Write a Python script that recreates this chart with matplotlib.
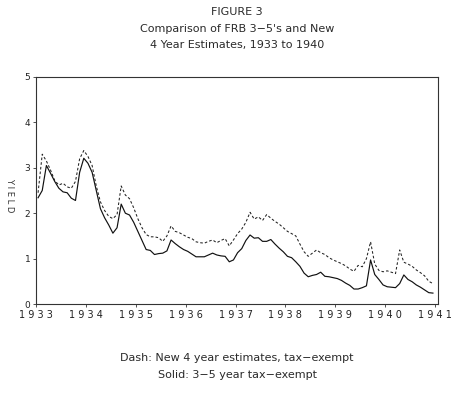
import matplotlib
matplotlib.use("Agg")
import matplotlib.pyplot as plt
import numpy as np

# Monthly data, Jan 1933 .. Dec 1940
start_year = 1933
solid_35yr = [
    2.34, 2.50, 3.05, 2.88, 2.70, 2.55, 2.47, 2.45, 2.33, 2.28, 2.90, 3.21,
    3.10, 2.90, 2.50, 2.10, 1.90, 1.74, 1.56, 1.68, 2.20, 2.00, 1.96, 1.80,
    1.60, 1.40, 1.20, 1.18, 1.09, 1.11, 1.12, 1.17, 1.41, 1.33, 1.26, 1.20,
    1.16, 1.10, 1.04, 1.04, 1.04, 1.08, 1.12, 1.08, 1.06, 1.05, 0.93, 0.97,
    1.13, 1.22, 1.40, 1.52, 1.45, 1.46, 1.38, 1.38, 1.42, 1.32, 1.23, 1.15,
    1.05, 1.02, 0.93, 0.83, 0.68, 0.60, 0.63, 0.65, 0.70, 0.61, 0.60, 0.58,
    0.56, 0.52, 0.46, 0.41, 0.33, 0.33, 0.36, 0.40, 0.97, 0.65, 0.54, 0.42,
    0.38, 0.37, 0.36, 0.45, 0.64, 0.54, 0.49, 0.42, 0.37, 0.31, 0.25, 0.24,
]
dash_new4yr = [
    2.45, 3.30, 3.15, 2.95, 2.72, 2.62, 2.66, 2.58, 2.55, 2.70, 3.20, 3.38,
    3.25, 3.05, 2.60, 2.25, 2.06, 1.93, 1.88, 1.97, 2.60, 2.40, 2.32, 2.12,
    1.88, 1.68, 1.53, 1.48, 1.48, 1.46, 1.38, 1.50, 1.72, 1.60, 1.57, 1.52,
    1.47, 1.44, 1.37, 1.35, 1.34, 1.38, 1.41, 1.35, 1.40, 1.44, 1.28, 1.41,
    1.55, 1.65, 1.80, 2.02, 1.87, 1.92, 1.84, 1.97, 1.89, 1.82, 1.76, 1.68,
    1.60, 1.55, 1.50, 1.32, 1.15, 1.05, 1.12, 1.19, 1.13, 1.09, 1.02, 0.97,
    0.93, 0.89, 0.84, 0.77, 0.72, 0.85, 0.82, 1.00, 1.37, 0.88, 0.74, 0.71,
    0.73, 0.70, 0.67, 1.19, 0.92, 0.88, 0.83, 0.75, 0.69, 0.62, 0.50, 0.45,
]
year_ticks = list(range(1933, 1942))
y_ticks = [0, 1, 2, 3, 4, 5]
title_lines = ["FIGURE 3", "Comparison of FRB 3\u22125's and New",
               "4 Year Estimates, 1933 to 1940"]
caption_lines = ["Dash: New 4 year estimates, tax\u2212exempt",
                 "Solid: 3\u22125 year tax\u2212exempt"]
y_label = "YIELD"

months = start_year + (np.arange(len(solid_35yr)) + 0.5) / 12.0

fig = plt.figure(figsize=(4.7, 3.93), dpi=100)
ax = fig.add_axes([36/470, 1-304/393, (438-36)/470, (304-77)/393])

ax.plot(months, dash_new4yr, color="#222222", lw=0.75, linestyle=(0, (2.5, 2)))
ax.plot(months, solid_35yr, color="#111111", lw=0.85)

ax.set_xlim(1933.0, 1941.06)
ax.set_ylim(0, 5)
ax.set_xticks(year_ticks)
ax.set_xticklabels([" ".join(str(y)) for y in year_ticks], fontsize=7, color="#222222")
ax.set_yticks(y_ticks)
ax.set_yticklabels([str(v) for v in y_ticks], fontsize=6.5, color="#222222")
ax.tick_params(axis="both", length=2, width=0.6, pad=2, color="#333333")
for s in ax.spines.values():
    s.set_linewidth(0.8)
    s.set_color("#333333")

ax.set_ylabel(" ".join(y_label), rotation=270, fontsize=6, color="#333333", va="center")
ax.yaxis.set_label_coords(-0.065, 0.48)

title_y = [12, 29, 45]
for t, yy in zip(title_lines, title_y):
    fig.text(237/470, 1-yy/393, t, ha="center", va="center", fontsize=8, color="#2a2a2a")
cap_y = [358, 375]
for t, yy in zip(caption_lines, cap_y):
    fig.text(237/470, 1-yy/393, t, ha="center", va="center", fontsize=8, color="#2a2a2a")

fig.savefig("out.png", dpi=100, facecolor="white")
